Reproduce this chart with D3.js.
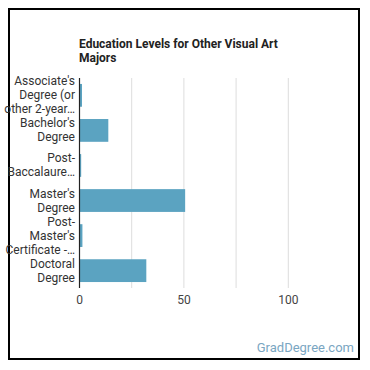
<!DOCTYPE html>
<html>
<head>
<meta charset="utf-8">
<script src="https://cdn.jsdelivr.net/npm/d3@7"></script>
<style>
  body { margin: 0; background: #fff; }
  svg { font-family: Roboto, "Open Sans", sans-serif; }
</style>
</head>
<body>
<div id="chart"></div>
<script>
// data
var categories = [
  ["Associate's", "Degree (or", "other 2-year\u2026"],
  ["Bachelor's", "Degree"],
  ["Post-", "Baccalaure\u2026"],
  ["Master's", "Degree"],
  ["Post-", "Master's", "Certificate -\u2026"],
  ["Doctoral", "Degree"]
];
var values = [1.2, 13.8, 0.8, 50.6, 1.4, 32];
var tickValues = [0, 50, 100];
var gridValues = [25, 50, 75, 100];

var width = 370, height = 370;
var margin = {top: 78, left: 79.5, right: 29, bottom: 82};

var canvas = d3.select("#chart").append("svg")
  .attr("width", width)
  .attr("height", height);

// frame
canvas.append("rect")
  .attr("x", 9).attr("y", 9)
  .attr("width", 350).attr("height", 350)
  .attr("fill", "#fff")
  .attr("stroke", "#000")
  .attr("stroke-width", 2);

/*Scales*/
var xScale = d3.scaleLinear()
  .domain([0, 125])
  .range([margin.left, width - margin.right - 0.5]);

var yScale = d3.scaleBand()
  .domain(d3.range(categories.length))
  .range([margin.top, height - margin.bottom])
  .paddingInner(0.35)
  .paddingOuter(0.17);

// title
var title = canvas.append("text")
  .attr("x", 79)
  .attr("y", 48)
  .style("font-size", "12px")
  .style("font-weight", "bold")
  .style("fill", "#222");
title.append("tspan").attr("x", 79).attr("dy", 0).text("Education Levels for Other Visual Art");
title.append("tspan").attr("x", 79).attr("dy", 13.5).text("Majors");

// gridlines
canvas.append("g")
  .selectAll("line")
  .data(gridValues)
  .enter().append("line")
  .attr("x1", function(d){ return xScale(d); })
  .attr("x2", function(d){ return xScale(d); })
  .attr("y1", margin.top)
  .attr("y2", height - margin.bottom)
  .attr("stroke", "#ddd")
  .attr("stroke-width", 1);

// bars
canvas.append("g")
  .selectAll("rect")
  .data(values)
  .enter().append("rect")
  .attr("x", xScale(0))
  .attr("y", function(d, i){ return yScale(i); })
  .attr("width", function(d){ return xScale(d) - xScale(0); })
  .attr("height", yScale.bandwidth())
  .attr("fill", "#5ba3c1");

// y axis line
canvas.append("line")
  .attr("x1", xScale(0)).attr("x2", xScale(0))
  .attr("y1", margin.top).attr("y2", height - margin.bottom)
  .attr("stroke", "#222")
  .attr("stroke-width", 1.2);

// category labels
var lineH = 14;
categories.forEach(function(lines, i){
  var cy = yScale(i) + yScale.bandwidth() / 2;
  var t = canvas.append("text")
    .attr("text-anchor", "end")
    .style("font-size", "12px")
    .style("fill", "#333");
  lines.forEach(function(s, j){
    t.append("tspan")
      .attr("x", 75)
      .attr("y", cy + (j - (lines.length - 1) / 2) * lineH + 4)
      .text(s);
  });
});

// x tick labels
canvas.append("g")
  .selectAll("text")
  .data(tickValues)
  .enter().append("text")
  .attr("x", function(d){ return xScale(d); })
  .attr("y", 304)
  .attr("text-anchor", "middle")
  .style("font-size", "12px")
  .style("fill", "#444")
  .text(function(d){ return d; });

// watermark
canvas.append("text")
  .attr("x", 354)
  .attr("y", 352)
  .attr("text-anchor", "end")
  .style("font-size", "13px")
  .style("fill", "#7aa6c2")
  .text("GradDegree.com");
</script>
</body>
</html>
